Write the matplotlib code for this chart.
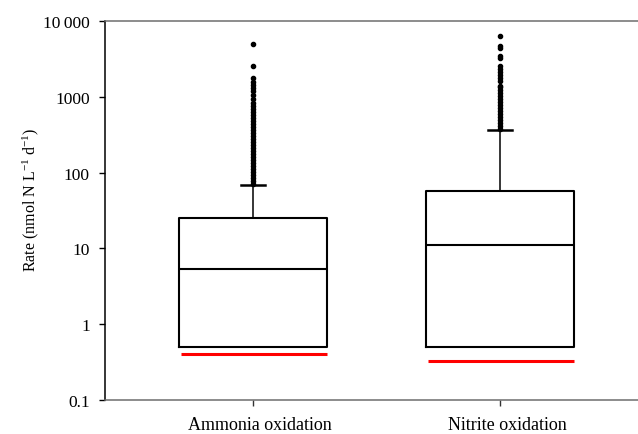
import numpy as np
import matplotlib
matplotlib.use("Agg")
import matplotlib.pyplot as plt
import matplotlib.transforms as mtransforms

plt.rcParams['font.family'] = ['Liberation Serif', 'DejaVu Serif']
plt.rcParams['mathtext.fontset'] = 'custom'
plt.rcParams['mathtext.rm'] = 'Liberation Serif'
plt.rcParams['mathtext.it'] = 'Liberation Serif:italic'

# categories and summary statistics
labels = ["Ammonia oxidation", "Nitrite oxidation"]
q1 = [0.5, 0.5]
median = [5.3, 11.0]
q3 = [25.0, 57.0]
whis_low = [0.5, 0.5]
whis_high = [68.0, 363.0]
# detection limit (red lines)
det_limit = [0.40, 0.33]

# outliers above the upper whisker
fliers_amo = [4980, 2550, 1770, 1568, 1430, 1306, 1194, 1057, 935, 828, 757,
              690, 630, 575, 525, 480, 438, 400, 365, 333, 304, 278, 254,
              232, 212, 193, 176, 161, 147, 134, 123, 112, 102, 93, 85, 78, 71]
fliers_nio = [6340, 4680, 4400, 3450, 3250, 2550, 2330, 2120, 1940, 1770,
              1615, 1387, 1346, 1230, 1123, 1025, 936, 855, 781, 713, 651,
              595, 543, 496, 453, 414, 378]
fliers = [fliers_amo, fliers_nio]

stats = []
for i in range(len(labels)):
    stats.append(dict(label=labels[i], q1=q1[i], med=median[i], q3=q3[i],
                      whislo=whis_low[i], whishi=whis_high[i], fliers=fliers[i]))

positions = [1, 2]
width = 0.6

fig = plt.figure(figsize=(6.38, 4.35), dpi=100)
ax = fig.add_axes([0.1646, 0.0782, 0.8354, 0.8712])

parts = ax.bxp(stats, positions=positions, widths=width, capwidths=0.1,
               boxprops=dict(color='black', linewidth=1.5),
               medianprops=dict(color='black', linewidth=1.5),
               whiskerprops=dict(color='black', linewidth=1.1),
               capprops=dict(color='black', linewidth=1.8),
               flierprops=dict(marker='o', markersize=3, markerfacecolor='black',
                               markeredgecolor='black', linestyle='none'))
# no lower whisker cap (lower whisker sits on the box)
for cap in parts['caps'][0::2]:
    cap.set_visible(False)

for p, d in zip(positions, det_limit):
    ax.hlines(d, p - width / 2 + 0.01, p + width / 2, color='red', linewidth=2.2)

ax.set_yscale('log')
ax.set_ylim(0.1, 10000)
ax.set_xlim(0.401, 2.559)
ax.set_yticks([0.1, 1, 10, 100, 1000, 10000])
ax.set_yticklabels(["0.1", "1", "10", "100", "1000", "10\u2009000"])
ax.minorticks_off()
ax.set_xticks(positions)
ax.set_xticklabels(labels)

ax.spines['right'].set_visible(False)
ax.spines['top'].set_color('#6e6e6e')
ax.spines['bottom'].set_color('#6e6e6e')
ax.spines['left'].set_color('black')
for s in ax.spines.values():
    s.set_linewidth(1.1)

ax.tick_params(axis='y', direction='out', length=4, width=1, pad=7, labelsize=12.5)
ax.tick_params(axis='x', direction='out', length=4.3, width=1, pad=7.5, labelsize=13,
               color='#333333')

# category labels sit slightly right of their ticks in the original
shift = mtransforms.ScaledTranslation(7 / 100, 0, fig.dpi_scale_trans)
for lab in ax.get_xticklabels():
    lab.set_transform(lab.get_transform() + shift)

ax.set_ylabel("Rate (nmol N L$^{-1}$ d$^{-1}$)", fontsize=11.5)
ax.yaxis.set_label_coords(-0.121, 0.53)

fig.savefig("out.png", dpi=100)
